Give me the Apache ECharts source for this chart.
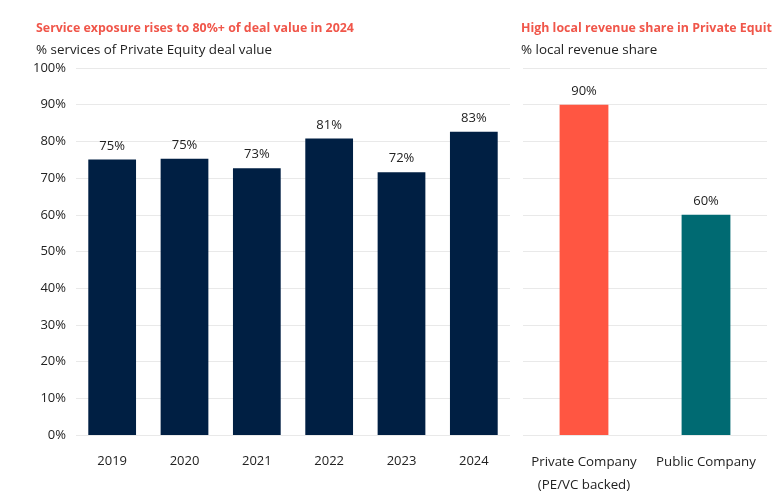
<!DOCTYPE html>
<html><head><meta charset="utf-8">
<script src="https://cdn.jsdelivr.net/npm/echarts@6/dist/echarts.min.js"></script>
<style>html,body{margin:0;padding:0;background:#fff}#c{width:772px;height:493px}</style>
</head><body><div id="c"></div>
<script>
const years = ['2019','2020','2021','2022','2023','2024'];
const serviceShare = [75.1, 75.3, 72.7, 80.8, 71.6, 82.6];
const companyTypes = ['Private Company\n(PE/VC backed)', 'Public Company'];
const localShare = [90, 60];
const companyColors = ['#ff5642', '#006a72'];
const yTicks = [0,10,20,30,40,50,60,70,80,90,100];

const font = '"Open Sans", "Noto Sans", sans-serif';
const chart = echarts.init(document.getElementById('c'));
const grid = {color:'#e9e9e9'};
chart.setOption({
  animation:false,
  textStyle:{fontFamily:font},
  title:[
    {text:'Service exposure rises to 80%+ of deal value in 2024', left:31, top:17,
     textStyle:{color:'#f0564a', fontSize:12.4, fontWeight:'bold', fontFamily:font}},
    {text:'% services of Private Equity deal value', left:31, top:39,
     textStyle:{color:'#222', fontSize:13.4, fontWeight:'normal', fontFamily:font}},
    {text:'High local revenue share in Private Equity', left:516, top:17,
     textStyle:{color:'#f0564a', fontSize:12.4, fontWeight:'bold', fontFamily:font}},
    {text:'% local revenue share', left:516, top:39,
     textStyle:{color:'#222', fontSize:13.4, fontWeight:'normal', fontFamily:font}}
  ],
  grid:[
    {left:76, width:434, top:68, height:367, outerBoundsMode:'none', containLabel:false},
    {left:523, width:244, top:68, height:367, outerBoundsMode:'none', containLabel:false}
  ],
  xAxis:[
    {type:'category', gridIndex:0, data:years, axisLine:{show:false}, axisTick:{show:false},
     axisLabel:{color:'#222', fontSize:13, margin:20, fontFamily:font}},
    {type:'category', gridIndex:1, data:companyTypes, axisLine:{show:false}, axisTick:{show:false},
     axisLabel:{color:'#222', fontSize:13.3, margin:16, lineHeight:23, fontFamily:font, interval:0}}
  ],
  yAxis:[
    {type:'value', gridIndex:0, min:yTicks[0], max:yTicks[yTicks.length-1], interval:10,
     axisLabel:{color:'#222', fontSize:13, margin:10, formatter:v=>v+'%', fontFamily:font},
     splitLine:{lineStyle:grid}, axisLine:{show:false}, axisTick:{show:false}},
    {type:'value', gridIndex:1, min:yTicks[0], max:yTicks[yTicks.length-1], interval:10,
     axisLabel:{show:false},
     splitLine:{lineStyle:grid}, axisLine:{show:false}, axisTick:{show:false}}
  ],
  series:[
    {type:'bar', xAxisIndex:0, yAxisIndex:0, data:serviceShare, barWidth:'66%',
     itemStyle:{color:'#001f43'},
     label:{show:true, position:'top', distance:7, color:'#222', fontSize:13, fontFamily:font,
            formatter:p=>Math.round(p.value)+'%'}},
    {type:'bar', xAxisIndex:1, yAxisIndex:1, barWidth:'40%',
     data:localShare.map((v,i)=>({value:v, itemStyle:{color:companyColors[i]}})),
     label:{show:true, position:'top', distance:7, color:'#222', fontSize:13, fontFamily:font,
            formatter:p=>Math.round(p.value)+'%'}}
  ]
});
</script></body></html>
